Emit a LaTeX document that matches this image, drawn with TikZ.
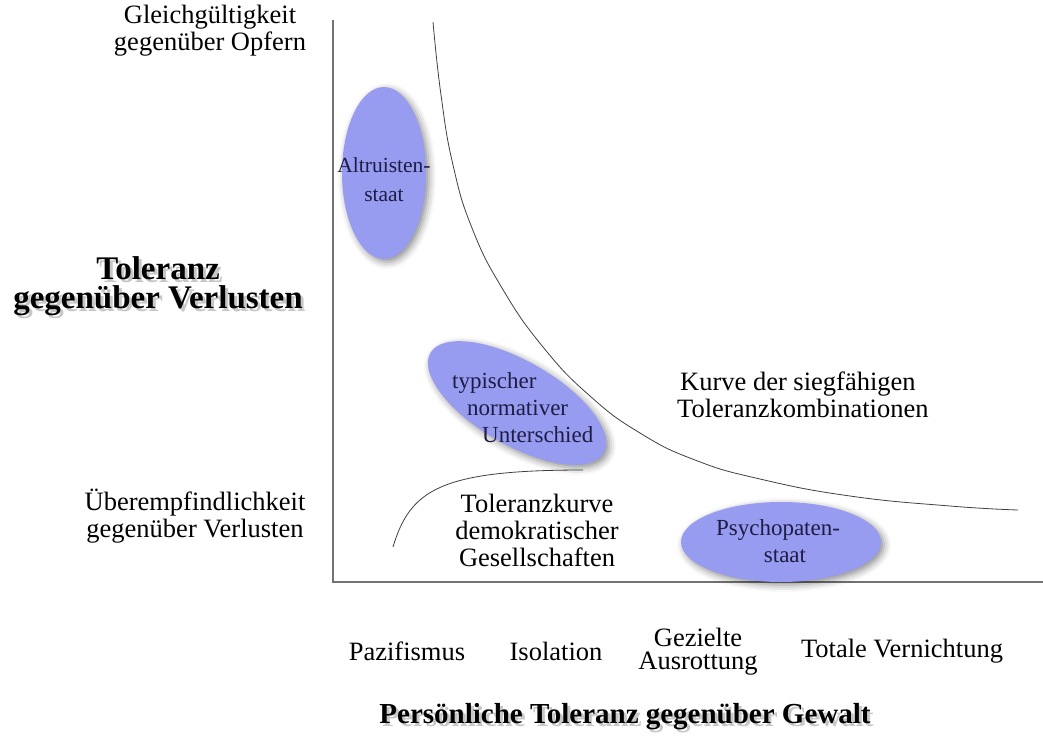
\documentclass[tikz,border=0pt]{standalone}
\usepackage{fontspec}
\setmainfont{LiberationSerif}[Extension=.ttf, UprightFont=*-Regular, BoldFont=*-Bold, ItalicFont=*-Italic, BoldItalicFont=*-BoldItalic]
\usetikzlibrary{shapes.geometric, shadows.blur}
\definecolor{ellblau}{RGB}{152,156,240}
\definecolor{ellschrift}{RGB}{28,28,68}

\begin{document}
\begin{tikzpicture}[
  x=1pt, y=-1pt,
  achse/.style={draw=black!55, line width=1.6pt},
  kurve/.style={draw=black!75, line width=0.8pt},
  beschr/.style={font=\fontsize{26.5}{27}\selectfont, align=center, inner sep=0pt},
  titel/.style={font=\fontsize{33}{29}\selectfont\bfseries, align=center, inner sep=0pt},
  zone/.style={ellipse, fill=ellblau, inner sep=0pt,
    blur shadow={shadow xshift=3pt, shadow yshift=-3pt, shadow blur radius=7pt, shadow opacity=45}},
  zonetext/.style={text=ellschrift, font=\fontsize{23}{27}\selectfont, align=center, inner sep=0pt}
]
  \useasboundingbox (0,0) rectangle (1043,740);
  \coordinate (o) at (333,582);
  \coordinate (ytop) at (333,20);
  \coordinate (xend) at (1043,582);
  \draw[achse] (ytop) -- (o) -- (xend);

  \node[beschr] (gleich) at (210,31) {Gleichgültigkeit\\gegenüber Opfern};
  \node[beschr] (ueber) at (195,516) {Überempfindlichkeit\\gegenüber Verlusten};
  \node[titel, opacity=0.22] at (161,289) {Toleranz\\gegenüber Verlusten};
  \node[titel] (ytitel) at (158,286) {Toleranz\\gegenüber Verlusten};

  \coordinate (k1a) at (433,22);
  \coordinate (k1b) at (1018,510);
  \draw[kurve] plot[smooth, tension=0.8] coordinates {(k1a) (441,95) (453,165) (472,228) (502,288)
    (543,347) (590,396) (640,433) (695,460) (760,479) (850,496) (950,506) (k1b)};
  \coordinate (k2a) at (393,547);
  \coordinate (k2b) at (583,470);
  \draw[kurve] (k2a) .. controls (410,490) and (440,470) .. (k2b);

  \node[zone, minimum width=84pt, minimum height=172pt] (altru) at (384,173) {};
  \node[zonetext, font=\fontsize{21.5}{29}\selectfont] (altrutxt) at (384,180) {Altruisten-\\staat};
  \node[zone, minimum width=200pt, minimum height=84pt, rotate=-30] (typ) at (517,403) {};
  \node[zonetext, align=left, anchor=west] (typtxt) at (452,408)
    {typischer\\\hspace{15pt}normativer\\\hspace{30pt}Unterschied};
  \node[zone, minimum width=200pt, minimum height=80pt] (psycho) at (781,542) {};
  \node[zonetext] (psychotxt) at (778,541) {Psychopaten-\\\hspace{14pt}staat};

  \node[beschr, align=left, anchor=west] (sieg) at (677,395) {\hspace{3pt}Kurve der siegfähigen\\Toleranzkombinationen};
  \node[beschr] (demo) at (537,530) {Toleranzkurve\\demokratischer\\Gesellschaften};

  \node[beschr] (pazi) at (407,651) {Pazifismus};
  \node[beschr] (isol) at (556,651) {Isolation};
  \node[beschr, font=\fontsize{26.5}{23}\selectfont] (gezi) at (698,652) {Gezielte\\Ausrottung};
  \node[beschr] (total) at (902,651) {Totale Vernichtung};

  \node[titel, font=\fontsize{29}{29}\selectfont\bfseries, opacity=0.22] at (628,720) {Persönliche Toleranz gegenüber Gewalt};
  \node[titel, font=\fontsize{29}{29}\selectfont\bfseries] (xtitel) at (625,717) {Persönliche Toleranz gegenüber Gewalt};
\end{tikzpicture}
\end{document}
